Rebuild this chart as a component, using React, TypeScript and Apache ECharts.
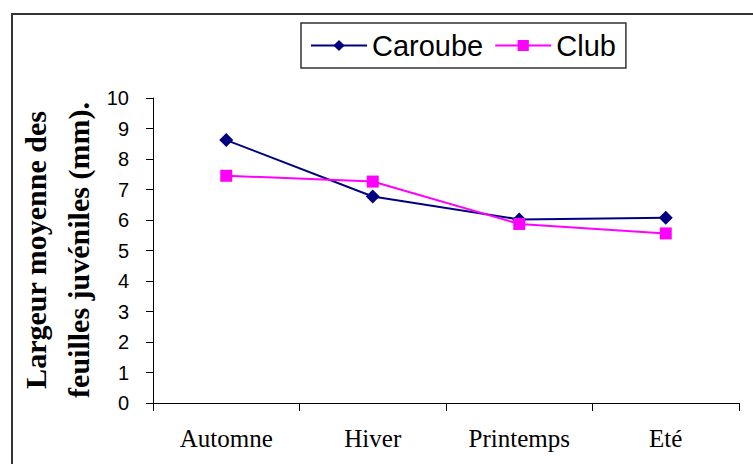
import React, { useEffect, useRef } from "react";
import * as echarts from "echarts";

// Seasons on the x axis
const seasons = ["Automne", "Hiver", "Printemps", "Eté"];
// Mean width of juvenile leaves (mm)
const caroube = [8.62, 6.77, 6.02, 6.07];
const club = [7.45, 7.26, 5.87, 5.56];
const yTicks = [0, 1, 2, 3, 4, 5, 6, 7, 8, 9, 10];

const sans = "'Liberation Sans', Arial, sans-serif";
const serif = "'Liberation Serif', 'Times New Roman', serif";

export default function App() {
  const ref = useRef<HTMLDivElement>(null);

  useEffect(() => {
    if (!ref.current) return;
    const chart = echarts.init(ref.current, null, { renderer: "svg" });
    chart.setOption({
      animation: false,
      backgroundColor: "#ffffff",
      grid: { left: 153, top: 98, right: 14, bottom: 61, containLabel: false },
      legend: {
        left: 301,
        top: 23,
        padding: [8, 10, 8, 9],
        itemGap: 11,
        itemWidth: 56,
        itemHeight: 14,
        borderColor: "#333333",
        borderWidth: 1.5,
        textStyle: { fontFamily: sans, fontSize: 29, color: "#000" },
        data: ["Caroube", "Club"],
      },
      xAxis: {
        type: "category",
        data: seasons,
        boundaryGap: true,
        axisLine: { lineStyle: { color: "#000", width: 1 } },
        axisTick: { show: true, length: 8, alignWithLabel: false, lineStyle: { color: "#000" } },
        axisLabel: { fontFamily: serif, fontSize: 25, color: "#000", margin: 23 },
        splitLine: { show: false },
      },
      yAxis: {
        type: "value",
        min: yTicks[0],
        max: yTicks[yTicks.length - 1],
        interval: 1,
        axisLine: { show: true, lineStyle: { color: "#000", width: 1 } },
        axisTick: { show: true, length: 7, lineStyle: { color: "#000" } },
        axisLabel: { fontFamily: sans, fontSize: 20, color: "#000", margin: 24 },
        splitLine: { show: false },
      },
      graphic: [
        {
          type: "rect",
          silent: true,
          shape: { x: 12, y: 14, width: 900, height: 600 },
          style: { fill: "none", stroke: "#333333", lineWidth: 2 },
        },
        {
          type: "text",
          x: 57,
          y: 250,
          rotation: Math.PI / 2,
          style: {
            text: "Largeur moyenne des\nfeuilles juvéniles (mm).",
            fontFamily: serif,
            fontWeight: "bold",
            fontSize: 30,
            lineHeight: 43,
            fill: "#000",
            align: "center",
            verticalAlign: "middle",
          },
        },
      ],
      series: [
        {
          name: "Caroube",
          type: "line",
          data: caroube,
          symbol: "diamond",
          symbolSize: 14,
          color: "#000080",
          lineStyle: { color: "#000080", width: 2 },
          itemStyle: { color: "#000080" },
        },
        {
          name: "Club",
          type: "line",
          data: club,
          symbol: "rect",
          symbolSize: 12,
          color: "#ff00ff",
          lineStyle: { color: "#ff00ff", width: 2 },
          itemStyle: { color: "#ff00ff" },
        },
      ],
    });
    return () => chart.dispose();
  }, []);

  return (
    <div
      ref={ref}
      style={{ position: "fixed", left: 0, top: 0, width: 753, height: 464, background: "#fff" }}
    />
  );
}
